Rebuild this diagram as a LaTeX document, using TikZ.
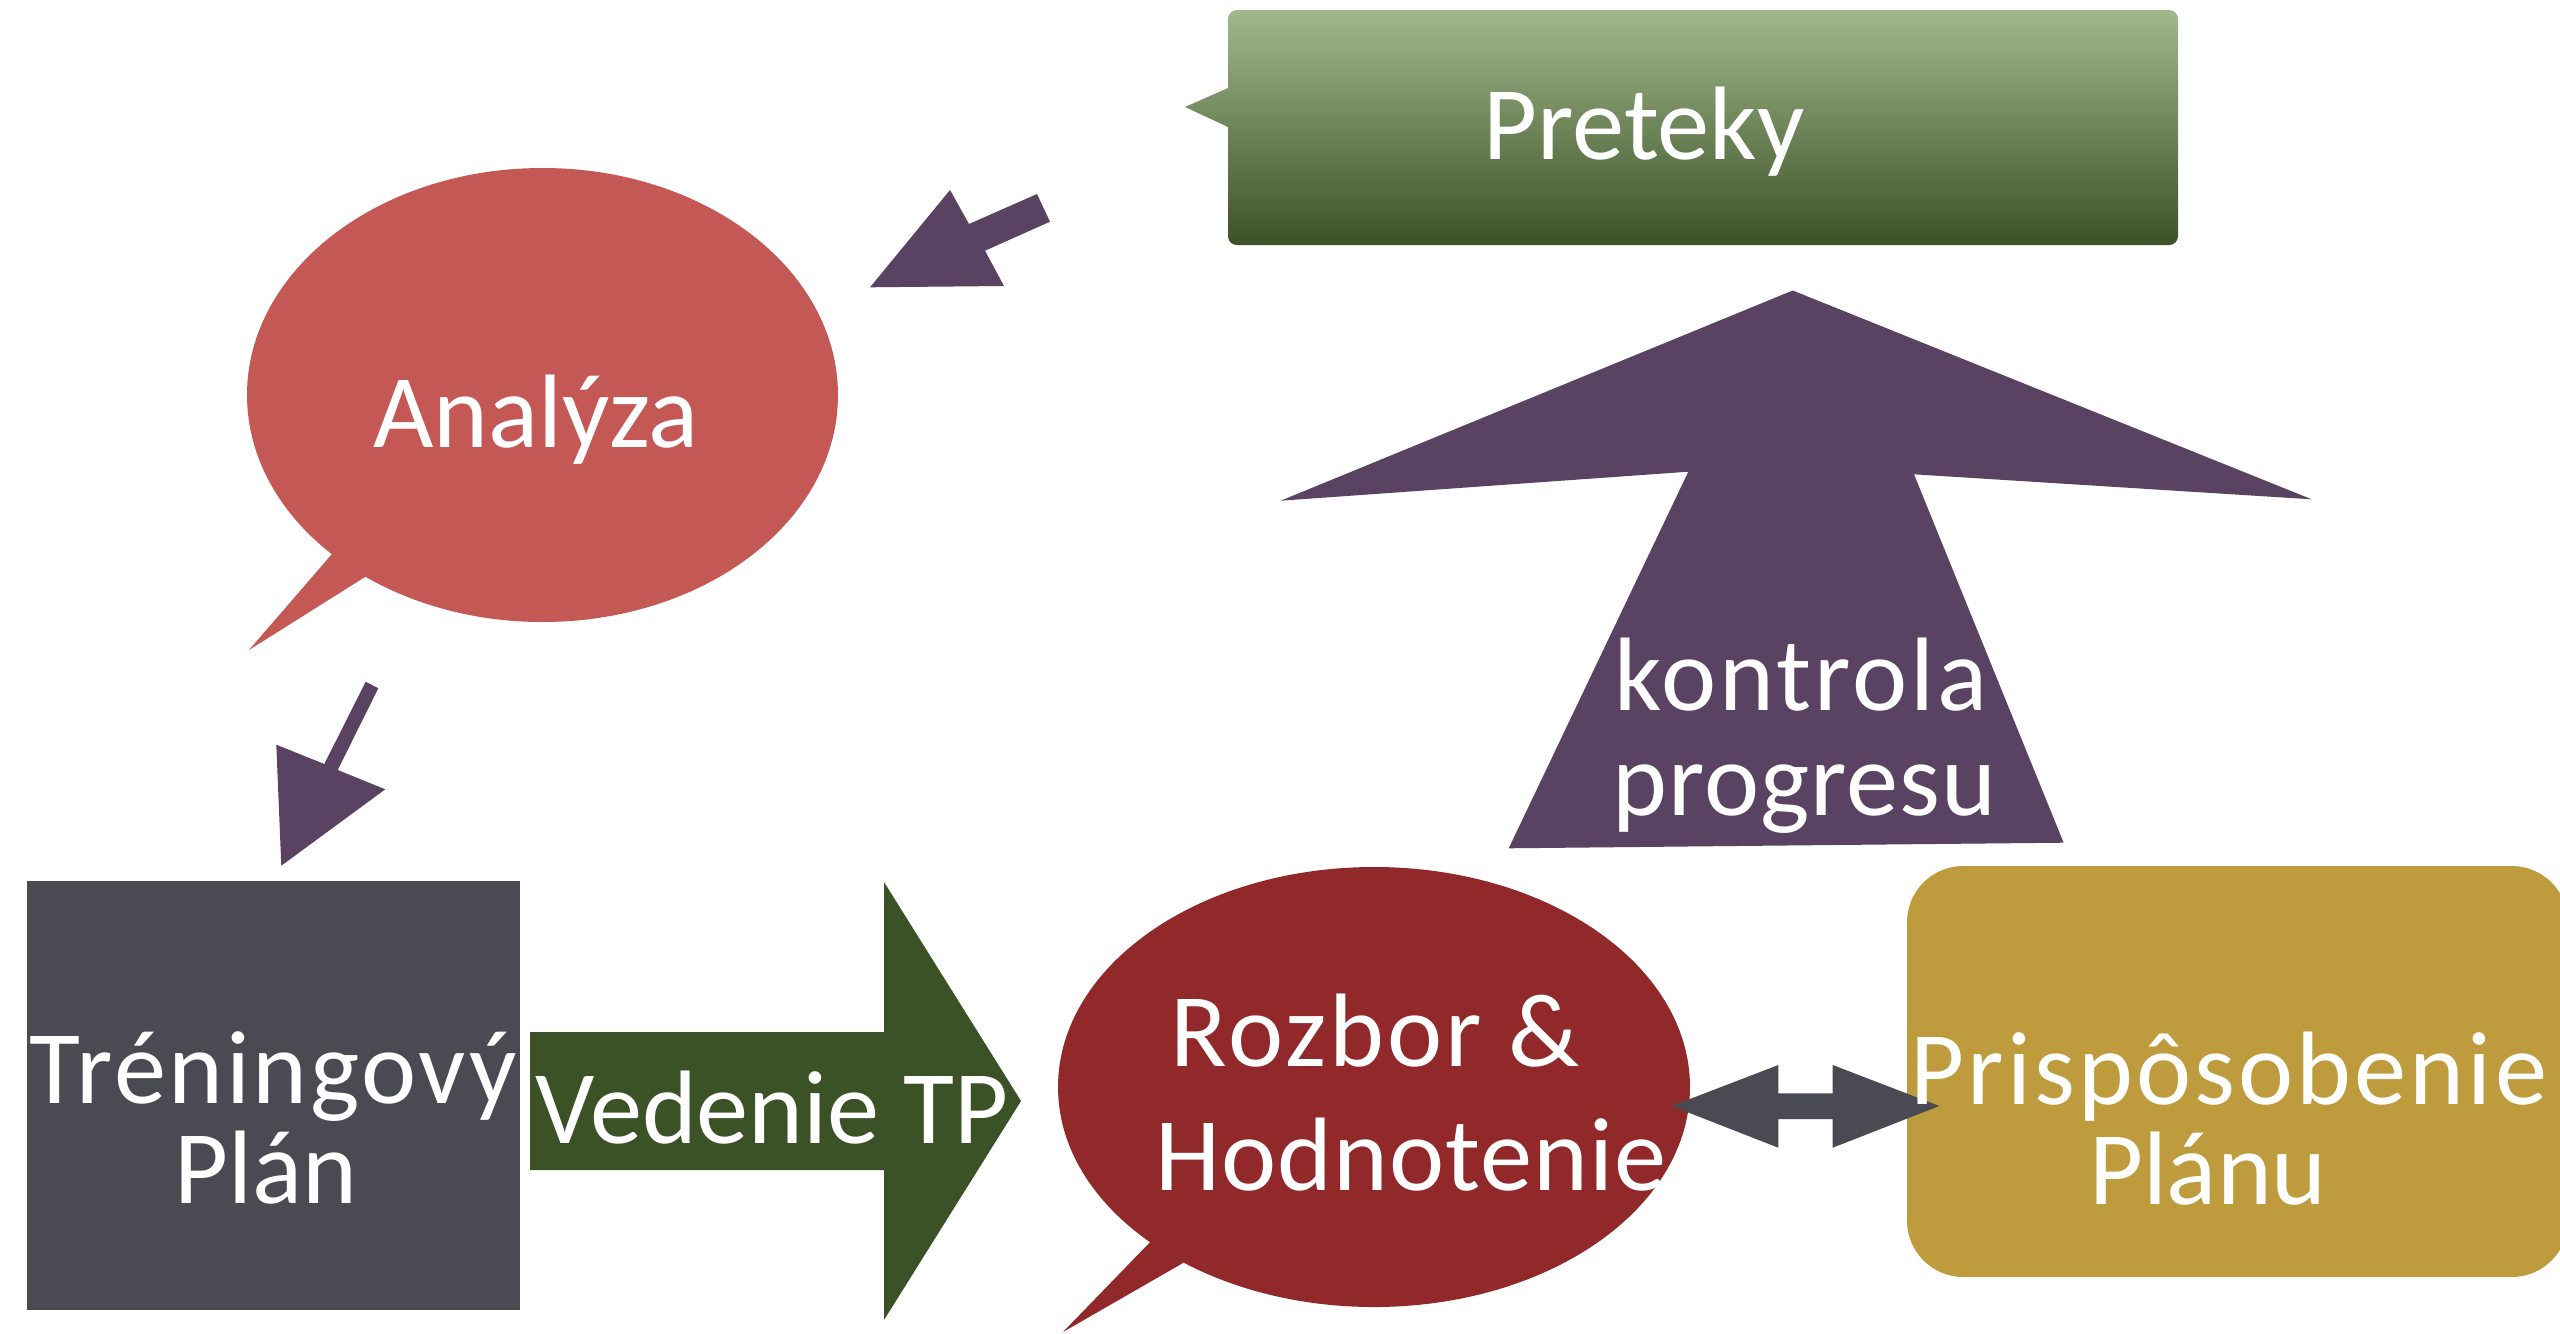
\documentclass[tikz,border=0pt]{standalone}
\usepackage{fontspec}
\setmainfont{Carlito}
\definecolor{pretop}{HTML}{A0B98C}
\definecolor{prebot}{HTML}{3C5126}
\definecolor{plum}{HTML}{5A4262}
\definecolor{salmon}{HTML}{C35855}
\definecolor{wine}{HTML}{91282A}
\definecolor{gold}{HTML}{BE9B3C}
\definecolor{slate}{HTML}{4A4A52}
\definecolor{moss}{HTML}{3B5126}
\newcommand\twoln[3]{\vtop{\baselineskip=#3\relax\lineskiplimit=-100pt\lineskip=0pt\halign{\hfil##\hfil\cr#1\cr#2\cr}}}
\newcommand\wide[2]{{\addfontfeature{LetterSpace=#1}#2}}
\tikzset{
  lbl/.style={text=white, inner sep=0pt, anchor=base, font=\fontsize{29.7pt}{30pt}\selectfont},
}
\begin{document}
\begin{tikzpicture}[x=0.01cm, y=-0.01cm]
\useasboundingbox (0,0) rectangle (2560,1333);
\fill[white] (0,0) rectangle (2560,1333);

% Preteky callout box with gradient
\shade[top color=pretop, bottom color=prebot]
  (1185,107) -- (1228,88) [rounded corners=2.5pt] -- (1228,10) -- (2178,10) -- (2178,245) -- (1228,245) [sharp corners] -- (1228,127) -- cycle;

% arrow Preteky -> Analyza
\fill[plum] (870,287.3) -- (950,190) -- (969,224) -- (1037,194) -- (1050,221.7) -- (985,250.7) -- (1004,286) -- cycle;

% Analyza speech bubble
\fill[salmon] (542.5,395) ellipse [x radius=295.5, y radius=227];
\fill[salmon] (332,554) -- (249,650) -- (365,577) -- (420,520) -- cycle;

% arrow Analyza -> Treningovy plan
\fill[plum] (365.7,681.7) -- (378.3,688.3) -- (337.7,770) -- (385.3,789.3) -- (281.3,865.7) -- (276.3,744.7) -- (324.3,764) -- cycle;

% big up arrow
\fill[plum] (1792.7,290.5) -- (2311.7,499.3) -- (1914,474.3) -- (2063.6,842.7) -- (1508.7,848.3) -- (1688.3,471.7) -- (1280.7,500.7) -- cycle;

% Treningovy plan box
\fill[slate] (27,881) rectangle (520,1310);

% Vedenie TP arrow
\fill[moss] (530,1032) -- (884,1032) -- (884,882) -- (1021,1101) -- (884,1320) -- (884,1170) -- (530,1170) -- cycle;

% Rozbor speech bubble
\fill[wine] (1374,1087) ellipse [x radius=316, y radius=220];
\fill[wine] (1149.5,1242.7) -- (1063,1332) -- (1183,1263) -- (1230,1200) -- cycle;

% Prisposobenie box
\fill[gold, rounded corners=16pt] (1907,866) rectangle (2568,1277);

% double arrow
\fill[slate] (1671.7,1106) -- (1778.3,1065) -- (1778.3,1093.3) -- (1832.7,1093.3) -- (1832.7,1065) -- (1939.3,1106) -- (1832.7,1147.7) -- (1832.7,1119) -- (1778.3,1119) -- (1778.3,1147.7) -- cycle;

% texts
\node[lbl] (preteky) at (1644,159) {Preteky};
\node[lbl] (analyza) at (536,447) {Analýza};
\node[lbl] (plan) at (273,1103) {\twoln{\wide{2.5}{Tréningový}}{\hspace*{-4pt}Plán}{28.45pt}};
\node[lbl] (vedenie) at (772,1143) {Vedenie TP};
\node[lbl] (kontrola) at (1801,710) {\twoln{\wide{3}{kontrola}}{\hspace*{2pt}\wide{1}{progresu}}{29.9pt}};
\node[lbl] (rozbor) at (1375.5,1066.7) {\twoln{\wide{3}{Rozbor \&}}{\hspace*{20.2pt}\wide{1}{Hodnotenie}}{35.1pt}};
\node[lbl] (prisp) at (2229,1104) {\twoln{\wide{3}{Prispôsobenie}}{\hspace*{-12pt}Plánu}{28.7pt}};
\end{tikzpicture}
\end{document}
